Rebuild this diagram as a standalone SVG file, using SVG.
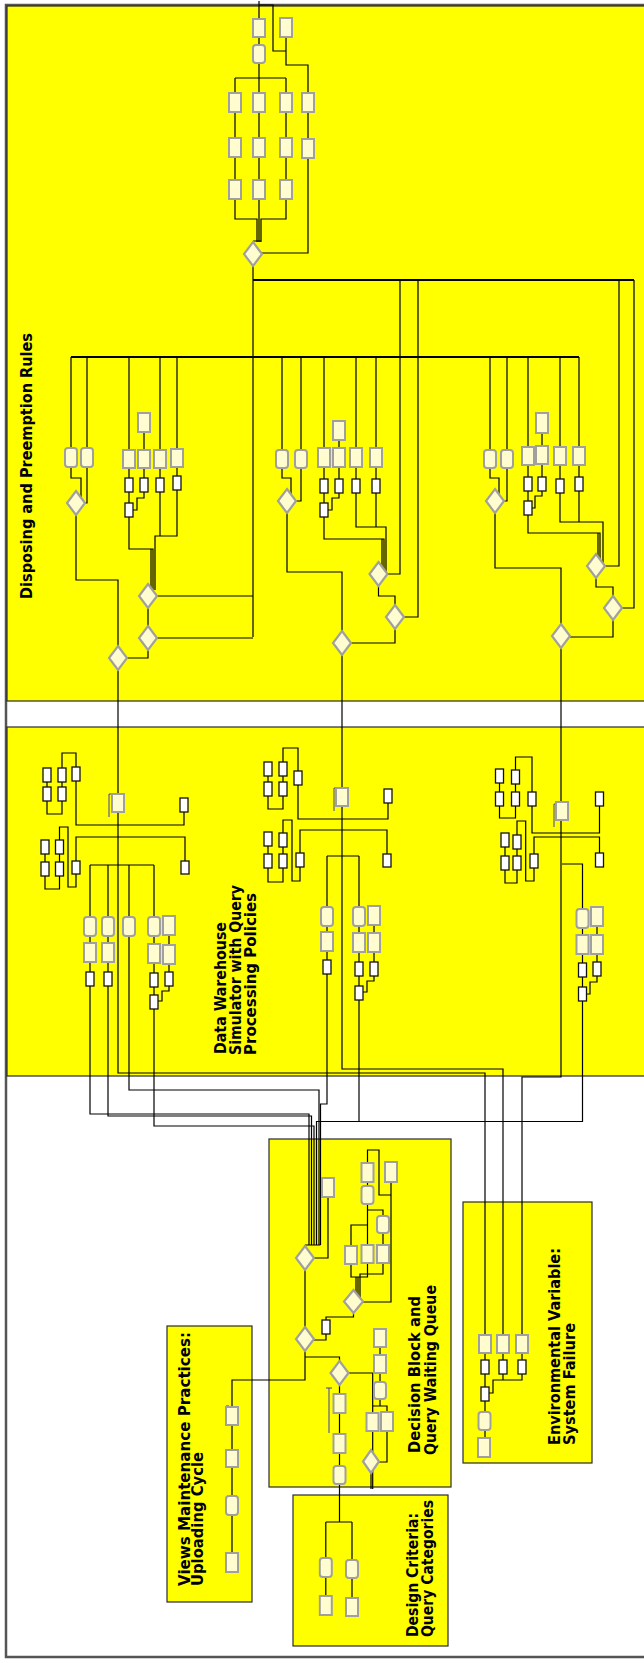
<svg xmlns="http://www.w3.org/2000/svg" width="644" height="1663" viewBox="0 0 644 1663">
<style>
.p{fill:#ffff00;stroke:#2b2b2b;stroke-width:1.2}
.n{fill:#fffccf;stroke:#a0a0a0;stroke-width:2}
.w{fill:#fff;stroke:#111;stroke-width:1.3}
.dm{fill:#fffccf;stroke:#a0a0a0;stroke-width:2.2}
#connectors path{fill:none;stroke:#000;stroke-width:1.2}
#connectors path.bus{stroke-width:2}
#connectors path.bl{stroke:#3c3ca8;stroke-width:1}
.lb{font-family:"DejaVu Sans",Verdana,sans-serif;font-weight:bold;font-size:15.5px;fill:#000}
</style>
<rect x="0" y="0" width="644" height="1663" fill="#fff"/>
<g id="frame"><rect x="6" y="5" width="700" height="1652" fill="#fff" stroke="#555" stroke-width="2.5"/></g>
<g id="panels">
<rect id="panel-disposing" class="p" x="7" y="6" width="660" height="695"/>
<rect id="panel-dw" class="p" x="7" y="727" width="660" height="349"/>
<rect id="panel-decision" class="p" x="269" y="1139" width="182" height="348"/>
<rect id="panel-design" class="p" x="293" y="1495" width="155" height="151"/>
<rect id="panel-views" class="p" x="167" y="1326" width="85" height="276"/>
<rect id="panel-env" class="p" x="463" y="1202" width="129" height="261"/>
</g>
<g id="connectors">
<path d="M259,1 V19 M259,5 H273 V51 H286 M286,37 V65 H308 V93 M259,37 V45 M259,63 V78 M235,78 H286 M235,78 V93 M259,78 V93 M286,78 V93"/>
<path d="M235,112 V138 M259,112 V138 M286,112 V138 M308,112 V139 M235,157 V180 M259,157 V180 M286,157 V180 M308,158 V253 H262"/>
<path d="M235,199 V219 H257 V242 M286,199 V219 H261 V242 M259,199 V242 M253,241 H261"/>
<path d="M253,254 V637"/>
<path class="bus" d="M253,280 H634"/>
<path d="M400,280 V574 H378.5 M418,280 V617 H395 M619,280 V566 H596 M634,280 V608 H613"/>
<path class="bus" d="M71,357 H579"/>
<path d="M71,357 V448 M87,357 V448 M129,357 V450 M160,357 V450 M177,357 V449 M129,468 V478 M129,492 V503 M144,432 V450 M144,468 V478 M160,468 V478 M177,467 V476 M144,492 V498 H137 V510 H133"/>
<path d="M71,467 V478 H81 V497 M87,467 V503 H76 M76,503 V580 H118 V658 M129,517 V549 H153 V590 M160,492 V536 M177,490 V536 H155 V590 M151,549 V590"/>
<path d="M148,596 H253 M148,596 V638 H253 M148,638 V658 H118 M118,658 V1073 H485 V1335"/>
<path d="M282,357 V450 M301,357 V450 M324,357 V448 M356,357 V448 M376,357 V448 M324,467 V479 M324,493 V503 M339,440 V448 M339,467 V479 M356,467 V479 M376,467 V479 M339,493 V498 H332 V510 H328"/>
<path d="M282,468 V478 H291 V495 M301,468 V501 H287 M287,501 V572 H342 V643 M324,517 V539 H384 V574 M356,493 V527 H386 V574 M376,493 V527 M382,539 V574"/>
<path d="M378.5,574 V596 H395 V617 M395,617 V643 H342 M342,643 V1069 H503 V1335"/>
<path d="M490,357 V450 M507,357 V450 M528,357 V447 M560,357 V447 M579,357 V447 M528,465 V477 M528,491 V501 M542,433 V446 M542,464 V477 M560,465 V479 M579,465 V477 M542,491 V496 H535 V508 H532"/>
<path d="M490,468 V478 H499 V495 M507,468 V501 H495 M495,501 V568 H561 V636 M528,515 V533 H600 V566 M560,493 V522 H603 V566 M579,491 V522 M598,533 V566"/>
<path d="M596,566 V587 H613 V608 M613,608 V637 H561 M561,636 V1077 H522 V1335"/>
<path d="M47,782 V787 M62,782 V787 M47,801 V814 H62 V801 M62,768 V753 H76 V767 M76,781 V825 H184 V812"/>
<path d="M45,854 V862 M59.5,854 V862 M45,876 V889 H59.5 V876 M59.5,840 V827 H68 V887 H76 V874 M76,861 V837 H185 V861"/>
<path d="M90,865 H154 M90,865 V917 M108,865 V917 M129,865 V917 M154,865 V917 M90,936 V943 M90,962 V972 M108,936 V943 M108,962 V972 M154,936 V944 M154,963 V973 M154,987 V995 M169,935 V945 M169,964 V972 M169,986 V991 H162 V1001 H158"/>
<path d="M90,986 V1114 H309 V1245 M108,986 V1116 H311.5 V1245 M129,936 V1090 H319 V1245 M154,1009 V1126 H314 V1245"/>
<path class="bl" d="M109,794 V817 M109,794 H112"/>
<path d="M268,776 V782 M283,776 V782 M268,796 V809 H283 V796 M283,762 V748 H298 V771 M298,785 V819 H388 V803"/>
<path d="M268,846 V854 M283,847 V854 M268,868 V882 H283 V868 M283,833 V820 H292 V881 H300 V867 M300,853 V830 H387 V854"/>
<path d="M327,856 H359 M327,856 V907 M359,856 V907 M327,926 V932 M327,951 V960 M359,926 V933 M359,952 V962 M359,976 V986 M374,925 V933 M374,952 V962 M374,976 V981 H367 V992 H363"/>
<path d="M327,974 V1104 H320.5 V1245 M359,1000 V1121.5 H316.5 V1245"/>
<path class="bl" d="M334,788 V811 M334,788 H337"/>
<path d="M499.5,783 V792 M515.5,784 V792 M499.5,806 V818 H515.5 V806 M515.5,770 V757 H532 V792 M532,806 V833 H599.5 V806"/>
<path d="M505,847 V856 M517,849 V856 M505,870 V883 H517 V870 M517,835 V821 H525.7 V881 H534 V868 M534,854 V837 H599.5 V853"/>
<path d="M562,864 H582.5 V909 M582.5,928 V935 M582.5,954 V963 M582.5,977 V987 M597,926 V935 M597,954 V962 M597,976 V982 H590 V994 H587"/>
<path d="M582.5,1001 V1121.5 H316.5"/>
<path class="bl" d="M554,804 V827 M554,804 H557"/>
<path d="M305,1245 H320.5 M305,1245 V1339 M328,1197 V1258 H305"/>
<path d="M367.5,1163 V1150 H379 V1195 H391 M391,1182 V1302 H353.5 M367.5,1182 V1245 M367.5,1210 H383 V1216 M383,1233 V1245 M367.5,1225 H351 V1277 H367.5 V1263 M383,1263 V1274 H360 V1301 M356,1277 V1301 M358,1277 V1301"/>
<path d="M353.5,1301 V1317 H326 V1320 M326,1334 V1340 H305"/>
<path d="M305,1339 V1380 H232 V1553 M305,1357 H339.5 V1522 M325.8,1522 H352 M325.8,1522 V1558 M352,1522 V1560 M325.8,1577 V1596 M352,1578 V1598"/>
<path d="M339.5,1373 H372.7 V1489 M380,1347 V1355 M380,1373 V1382 M380,1399 V1406 M372.7,1406 H387 V1412 M387,1431 V1462 H371 M371,1462 V1489"/>
<path class="bl" d="M329,1388 V1433 M326,1388 H332 M226,1406 V1425 M226,1406 H229"/>
<path d="M485,1353 V1360 M503,1353 V1360 M522,1353 V1360 M485,1374 V1387 M485,1401 V1438 M503,1374 V1380 M522,1374 V1380 H493 V1393 H489"/>
</g>
<g id="nodes">
<g id="t1"><rect class="n" x="253" y="19" width="12" height="18"/></g>
<g id="t2"><rect class="n" x="280" y="18" width="12" height="19"/></g>
<g id="t3"><rect class="n" x="253" y="45" width="12" height="18" rx="3"/></g>
<g id="t4"><rect class="n" x="229" y="93" width="12" height="19"/></g>
<g id="t5"><rect class="n" x="253" y="93" width="12" height="19"/></g>
<g id="t6"><rect class="n" x="280" y="93" width="12" height="19"/></g>
<g id="t7"><rect class="n" x="302" y="93" width="12" height="19"/></g>
<g id="t8"><rect class="n" x="229" y="138" width="12" height="19"/></g>
<g id="t9"><rect class="n" x="253" y="138" width="12" height="19"/></g>
<g id="t10"><rect class="n" x="280" y="138" width="12" height="19"/></g>
<g id="t11"><rect class="n" x="302" y="139" width="12" height="19"/></g>
<g id="t12"><rect class="n" x="229" y="180" width="12" height="19"/></g>
<g id="t13"><rect class="n" x="253" y="180" width="12" height="19"/></g>
<g id="t14"><rect class="n" x="280" y="180" width="12" height="19"/></g>
<g id="d0"><polygon class="dm" points="253,242 262,254 253,266 244,254"/></g>
<g id="a1"><rect class="n" x="65" y="448" width="12" height="19" rx="3"/></g>
<g id="a2"><rect class="n" x="81" y="448" width="12" height="19" rx="3"/></g>
<g id="a3"><rect class="n" x="123" y="450" width="12" height="18"/></g>
<g id="a4"><rect class="n" x="138" y="413" width="12" height="19"/></g>
<g id="a5"><rect class="n" x="138" y="450" width="12" height="18"/></g>
<g id="a6"><rect class="n" x="154" y="450" width="12" height="18"/></g>
<g id="a7"><rect class="n" x="171" y="449" width="12" height="18"/></g>
<g id="aw1"><rect class="w" x="125" y="478" width="8" height="14"/></g>
<g id="aw2"><rect class="w" x="140" y="478" width="8" height="14"/></g>
<g id="aw3"><rect class="w" x="156" y="478" width="8" height="14"/></g>
<g id="aw4"><rect class="w" x="173" y="476" width="8" height="14"/></g>
<g id="aw5"><rect class="w" x="125" y="503" width="8" height="14"/></g>
<g id="d1"><polygon class="dm" points="76,491 85,503 76,515 67,503"/></g>
<g id="d2"><polygon class="dm" points="148,584 157,596 148,608 139,596"/></g>
<g id="d3"><polygon class="dm" points="148,626 157,638 148,650 139,638"/></g>
<g id="d4"><polygon class="dm" points="118,646 127,658 118,670 109,658"/></g>
<g id="b1"><rect class="n" x="276" y="450" width="12" height="18" rx="3"/></g>
<g id="b2"><rect class="n" x="295" y="450" width="12" height="18" rx="3"/></g>
<g id="b3"><rect class="n" x="318" y="448" width="12" height="19"/></g>
<g id="b4"><rect class="n" x="333" y="421" width="12" height="19"/></g>
<g id="b5"><rect class="n" x="333" y="448" width="12" height="19"/></g>
<g id="b6"><rect class="n" x="350" y="448" width="12" height="19"/></g>
<g id="b7"><rect class="n" x="370" y="448" width="12" height="19"/></g>
<g id="bw1"><rect class="w" x="320" y="479" width="8" height="14"/></g>
<g id="bw2"><rect class="w" x="335" y="479" width="8" height="14"/></g>
<g id="bw3"><rect class="w" x="352" y="479" width="8" height="14"/></g>
<g id="bw4"><rect class="w" x="372" y="479" width="8" height="14"/></g>
<g id="bw5"><rect class="w" x="320" y="503" width="8" height="14"/></g>
<g id="d5"><polygon class="dm" points="287,489 296,501 287,513 278,501"/></g>
<g id="d6"><polygon class="dm" points="342,631 351,643 342,655 333,643"/></g>
<g id="d7"><polygon class="dm" points="378.5,562 387.5,574 378.5,586 369.5,574"/></g>
<g id="d8"><polygon class="dm" points="395,605 404,617 395,629 386,617"/></g>
<g id="c1"><rect class="n" x="484" y="450" width="12" height="18" rx="3"/></g>
<g id="c2"><rect class="n" x="501" y="450" width="12" height="18" rx="3"/></g>
<g id="c3"><rect class="n" x="522" y="447" width="12" height="18"/></g>
<g id="c4"><rect class="n" x="536" y="413" width="12" height="20"/></g>
<g id="c5"><rect class="n" x="536" y="446" width="12" height="18"/></g>
<g id="c6"><rect class="n" x="554" y="447" width="12" height="18"/></g>
<g id="c7"><rect class="n" x="573" y="447" width="12" height="18"/></g>
<g id="cw1"><rect class="w" x="524" y="477" width="8" height="14"/></g>
<g id="cw2"><rect class="w" x="538" y="477" width="8" height="14"/></g>
<g id="cw3"><rect class="w" x="556" y="479" width="8" height="14"/></g>
<g id="cw4"><rect class="w" x="575" y="477" width="8" height="14"/></g>
<g id="cw5"><rect class="w" x="524" y="501" width="8" height="14"/></g>
<g id="d9"><polygon class="dm" points="495,489 504,501 495,513 486,501"/></g>
<g id="d10"><polygon class="dm" points="561,624 570,636 561,648 552,636"/></g>
<g id="d11"><polygon class="dm" points="596,554 605,566 596,578 587,566"/></g>
<g id="d12"><polygon class="dm" points="613,596 622,608 613,620 604,608"/></g>
<g id="m1a1"><rect class="w" x="43" y="768" width="8" height="14"/></g>
<g id="m1a2"><rect class="w" x="58" y="768" width="8" height="14"/></g>
<g id="m1a3"><rect class="w" x="43" y="787" width="8" height="14"/></g>
<g id="m1a4"><rect class="w" x="58" y="787" width="8" height="14"/></g>
<g id="m1a5"><rect class="w" x="72" y="767" width="8" height="14"/></g>
<g id="m1a6"><rect class="w" x="180" y="798" width="8" height="14"/></g>
<g id="m1b1"><rect class="w" x="41" y="840" width="8" height="14"/></g>
<g id="m1b2"><rect class="w" x="55.5" y="840" width="8" height="14"/></g>
<g id="m1b3"><rect class="w" x="41" y="862" width="8" height="14"/></g>
<g id="m1b4"><rect class="w" x="55.5" y="862" width="8" height="14"/></g>
<g id="m1b5"><rect class="w" x="72" y="861" width="8" height="13"/></g>
<g id="m1b6"><rect class="w" x="181" y="861" width="8" height="13"/></g>
<g id="m1c"><rect class="n" x="112" y="794" width="12" height="18"/></g>
<g id="m1r1"><rect class="n" x="84" y="917" width="12" height="19" rx="3"/></g>
<g id="m1r2"><rect class="n" x="102" y="917" width="12" height="19" rx="3"/></g>
<g id="m1r3"><rect class="n" x="123" y="917" width="12" height="19" rx="3"/></g>
<g id="m1r4"><rect class="n" x="148" y="917" width="12" height="19" rx="3"/></g>
<g id="m1r5"><rect class="n" x="163" y="916" width="12" height="19"/></g>
<g id="m1s1"><rect class="n" x="84" y="943" width="12" height="19"/></g>
<g id="m1s2"><rect class="n" x="102" y="943" width="12" height="19"/></g>
<g id="m1s3"><rect class="n" x="148" y="944" width="12" height="19"/></g>
<g id="m1s4"><rect class="n" x="163" y="945" width="12" height="19"/></g>
<g id="m1w1"><rect class="w" x="86" y="972" width="8" height="14"/></g>
<g id="m1w2"><rect class="w" x="104" y="972" width="8" height="14"/></g>
<g id="m1w3"><rect class="w" x="150" y="973" width="8" height="14"/></g>
<g id="m1w4"><rect class="w" x="165" y="972" width="8" height="14"/></g>
<g id="m1w5"><rect class="w" x="150" y="995" width="8" height="14"/></g>
<g id="m2a1"><rect class="w" x="264" y="762" width="8" height="14"/></g>
<g id="m2a2"><rect class="w" x="279" y="762" width="8" height="14"/></g>
<g id="m2a3"><rect class="w" x="264" y="782" width="8" height="14"/></g>
<g id="m2a4"><rect class="w" x="279" y="782" width="8" height="14"/></g>
<g id="m2a5"><rect class="w" x="294" y="771" width="8" height="14"/></g>
<g id="m2a6"><rect class="w" x="384" y="789" width="8" height="14"/></g>
<g id="m2b1"><rect class="w" x="264" y="832" width="8" height="14"/></g>
<g id="m2b2"><rect class="w" x="279" y="833" width="8" height="14"/></g>
<g id="m2b3"><rect class="w" x="264" y="854" width="8" height="14"/></g>
<g id="m2b4"><rect class="w" x="279" y="854" width="8" height="14"/></g>
<g id="m2b5"><rect class="w" x="296" y="853" width="8" height="14"/></g>
<g id="m2b6"><rect class="w" x="383" y="854" width="8" height="13"/></g>
<g id="m2c"><rect class="n" x="336" y="788" width="12" height="18"/></g>
<g id="m2r1"><rect class="n" x="321" y="907" width="12" height="19" rx="3"/></g>
<g id="m2r2"><rect class="n" x="353" y="907" width="12" height="19" rx="3"/></g>
<g id="m2r3"><rect class="n" x="368" y="906" width="12" height="19"/></g>
<g id="m2s1"><rect class="n" x="321" y="932" width="12" height="19"/></g>
<g id="m2s2"><rect class="n" x="353" y="933" width="12" height="19"/></g>
<g id="m2s3"><rect class="n" x="368" y="933" width="12" height="19"/></g>
<g id="m2w1"><rect class="w" x="323" y="960" width="8" height="14"/></g>
<g id="m2w2"><rect class="w" x="355" y="962" width="8" height="14"/></g>
<g id="m2w3"><rect class="w" x="370" y="962" width="8" height="14"/></g>
<g id="m2w4"><rect class="w" x="355" y="986" width="8" height="14"/></g>
<g id="m3a1"><rect class="w" x="495.5" y="769" width="8" height="14"/></g>
<g id="m3a2"><rect class="w" x="511.5" y="770" width="8" height="14"/></g>
<g id="m3a3"><rect class="w" x="495.5" y="792" width="8" height="14"/></g>
<g id="m3a4"><rect class="w" x="511.5" y="792" width="8" height="14"/></g>
<g id="m3a5"><rect class="w" x="528" y="792" width="8" height="14"/></g>
<g id="m3a6"><rect class="w" x="595.5" y="792" width="8" height="14"/></g>
<g id="m3b1"><rect class="w" x="501" y="833" width="8" height="14"/></g>
<g id="m3b2"><rect class="w" x="513" y="835" width="8" height="14"/></g>
<g id="m3b3"><rect class="w" x="501" y="856" width="8" height="14"/></g>
<g id="m3b4"><rect class="w" x="513" y="856" width="8" height="14"/></g>
<g id="m3b5"><rect class="w" x="530" y="854" width="8" height="14"/></g>
<g id="m3b6"><rect class="w" x="595.5" y="853" width="8" height="14"/></g>
<g id="m3c"><rect class="n" x="556" y="802" width="12" height="18"/></g>
<g id="m3r1"><rect class="n" x="576.5" y="909" width="12" height="19" rx="3"/></g>
<g id="m3r2"><rect class="n" x="591" y="907" width="12" height="19"/></g>
<g id="m3s1"><rect class="n" x="576.5" y="935" width="12" height="19"/></g>
<g id="m3s2"><rect class="n" x="591" y="935" width="12" height="19"/></g>
<g id="m3w1"><rect class="w" x="578.5" y="963" width="8" height="14"/></g>
<g id="m3w2"><rect class="w" x="593" y="962" width="8" height="14"/></g>
<g id="m3w3"><rect class="w" x="578.5" y="987" width="8" height="14"/></g>
<g id="db-n1"><rect class="n" x="322" y="1178" width="12" height="19"/></g>
<g id="db-n2"><rect class="n" x="361.5" y="1163" width="12" height="19"/></g>
<g id="db-n3"><rect class="n" x="385" y="1162" width="12" height="20"/></g>
<g id="db-n4"><rect class="n" x="361.5" y="1186" width="12" height="18" rx="3"/></g>
<g id="db-n5"><rect class="n" x="377" y="1216" width="12" height="17" rx="3"/></g>
<g id="db-n6"><rect class="n" x="345" y="1246" width="12" height="18"/></g>
<g id="db-n7"><rect class="n" x="361.5" y="1245" width="12" height="18"/></g>
<g id="db-n8"><rect class="n" x="377" y="1245" width="12" height="18"/></g>
<g id="db-w1"><rect class="w" x="322" y="1320" width="8" height="14"/></g>
<g id="db-d1"><polygon class="dm" points="305,1246 314,1258 305,1270 296,1258"/></g>
<g id="db-d2"><polygon class="dm" points="305,1327 314,1339 305,1351 296,1339"/></g>
<g id="db-d3"><polygon class="dm" points="353.5,1290 363,1301.5 353.5,1313 344,1301.5"/></g>
<g id="db-d4"><polygon class="dm" points="339.5,1361 348.5,1373 339.5,1385 330.5,1373"/></g>
<g id="db-d5"><polygon class="dm" points="371,1450 379,1461.5 371,1473 363,1461.5"/></g>
<g id="db-n9"><rect class="n" x="333.5" y="1394" width="12" height="19"/></g>
<g id="db-n10"><rect class="n" x="333.5" y="1434" width="12" height="19"/></g>
<g id="db-n11"><rect class="n" x="333.5" y="1466" width="12" height="18" rx="3"/></g>
<g id="db-n12"><rect class="n" x="374" y="1329" width="12" height="18"/></g>
<g id="db-n13"><rect class="n" x="374" y="1355" width="12" height="18"/></g>
<g id="db-n14"><rect class="n" x="374" y="1382" width="12" height="17" rx="3"/></g>
<g id="db-n15"><rect class="n" x="366.5" y="1413" width="12" height="18"/></g>
<g id="db-n16"><rect class="n" x="381" y="1412" width="12" height="19"/></g>
<g id="dc-n1"><rect class="n" x="319.8" y="1558" width="12" height="19" rx="3"/></g>
<g id="dc-n2"><rect class="n" x="346" y="1560" width="12" height="18" rx="3"/></g>
<g id="dc-n3"><rect class="n" x="319.8" y="1596" width="12" height="19"/></g>
<g id="dc-n4"><rect class="n" x="346" y="1598" width="12" height="18"/></g>
<g id="vm-n1"><rect class="n" x="226" y="1407" width="12" height="18"/></g>
<g id="vm-n2"><rect class="n" x="226" y="1450" width="12" height="17"/></g>
<g id="vm-n3"><rect class="n" x="226" y="1496" width="12" height="19" rx="3"/></g>
<g id="vm-n4"><rect class="n" x="226" y="1553" width="12" height="19"/></g>
<g id="ev-n1"><rect class="n" x="479" y="1335" width="12" height="18"/></g>
<g id="ev-n2"><rect class="n" x="497" y="1335" width="12" height="18"/></g>
<g id="ev-n3"><rect class="n" x="516" y="1335" width="12" height="18"/></g>
<g id="ev-w1"><rect class="w" x="481" y="1360" width="8" height="14"/></g>
<g id="ev-w2"><rect class="w" x="499" y="1360" width="8" height="14"/></g>
<g id="ev-w3"><rect class="w" x="518" y="1360" width="8" height="14"/></g>
<g id="ev-w4"><rect class="w" x="481" y="1387" width="8" height="14"/></g>
<g id="ev-n4"><rect class="n" x="478.5" y="1412" width="12" height="18" rx="3"/></g>
<g id="ev-n5"><rect class="n" x="478" y="1438" width="12" height="19"/></g>
</g>
<g id="labels">
<text class="lb" transform="translate(31.5,599) rotate(-90)" textLength="266" lengthAdjust="spacingAndGlyphs">Disposing and Preemption Rules</text>
<text class="lb" transform="translate(225.5,1054) rotate(-90)" textLength="132" lengthAdjust="spacingAndGlyphs">Data Warehouse</text>
<text class="lb" transform="translate(240.5,1055) rotate(-90)" textLength="170" lengthAdjust="spacingAndGlyphs">Simulator with Query</text>
<text class="lb" transform="translate(255.5,1055) rotate(-90)" textLength="162" lengthAdjust="spacingAndGlyphs">Processing Policies</text>
<text class="lb" transform="translate(419.5,1453) rotate(-90)" textLength="157" lengthAdjust="spacingAndGlyphs">Decision Block and</text>
<text class="lb" transform="translate(436,1455) rotate(-90)" textLength="170" lengthAdjust="spacingAndGlyphs">Query Waiting Queue</text>
<text class="lb" transform="translate(559.5,1445) rotate(-90)" textLength="197" lengthAdjust="spacingAndGlyphs">Environmental Variable:</text>
<text class="lb" transform="translate(574.5,1445) rotate(-90)" textLength="122" lengthAdjust="spacingAndGlyphs">System Failure</text>
<text class="lb" transform="translate(190,1586) rotate(-90)" textLength="254" lengthAdjust="spacingAndGlyphs">Views Maintenance Practices:</text>
<text class="lb" transform="translate(203,1586) rotate(-90)" textLength="134" lengthAdjust="spacingAndGlyphs">Uploading Cycle</text>
<text class="lb" transform="translate(418,1637) rotate(-90)" textLength="124" lengthAdjust="spacingAndGlyphs">Design Criteria:</text>
<text class="lb" transform="translate(432.5,1637) rotate(-90)" textLength="137" lengthAdjust="spacingAndGlyphs">Query Categories</text>
</g>
</svg>
